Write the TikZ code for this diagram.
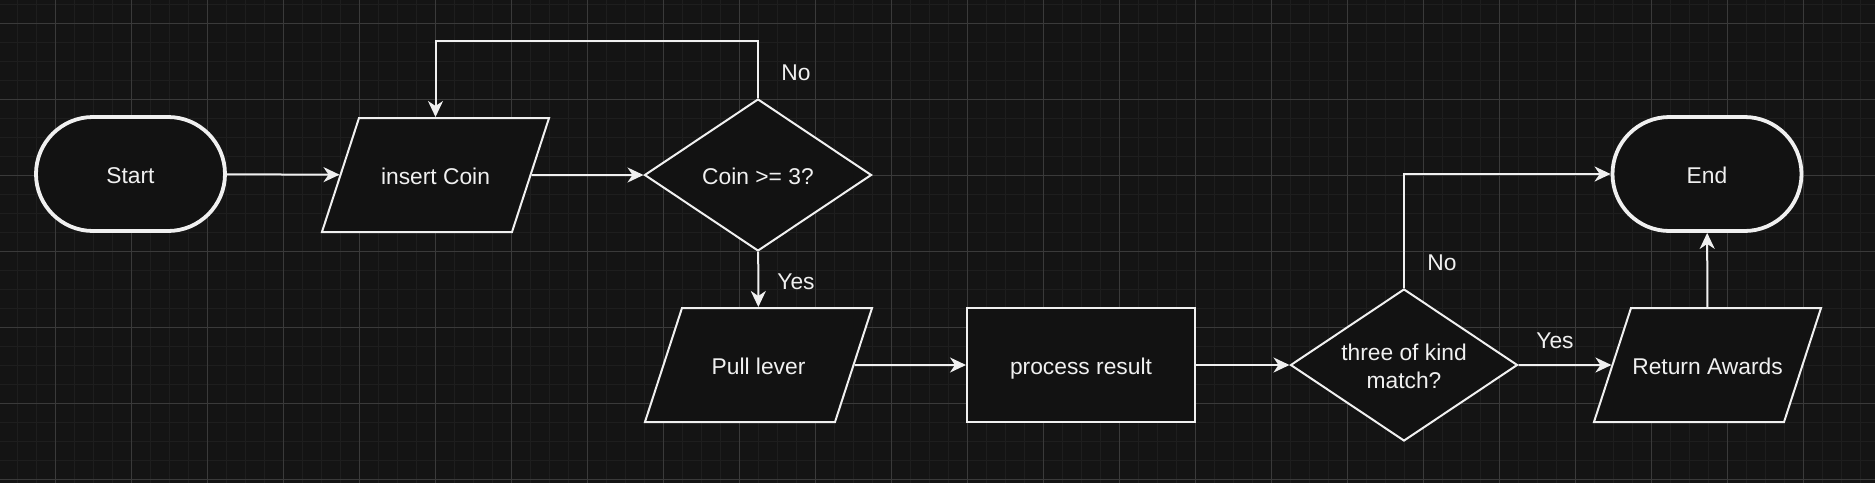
\documentclass[tikz,border=0pt]{standalone}
\usepackage{fontspec}
\setmainfont{Liberation Sans}
\usetikzlibrary{shapes.geometric,arrows.meta}
\definecolor{bgcol}{HTML}{141414}
\definecolor{gridminor}{HTML}{1E1E1E}
\definecolor{gridmajor}{HTML}{3A3A3A}
\definecolor{inkcol}{HTML}{F0F0F0}
\definecolor{shapefill}{HTML}{121212}
\begin{document}
\begin{tikzpicture}[x=1pt, y=-1pt,
  every node/.style={text=inkcol, font=\fontsize{22.8}{27.4}\selectfont, text height=20pt, text depth=1pt},
  startstop/.style={draw=inkcol, fill=shapefill, line width=3.8pt, rectangle, rounded corners=57pt, minimum width=189pt, minimum height=114pt},
  iobox/.style={draw=inkcol, fill=shapefill, line width=2pt, trapezium, trapezium left angle=72, trapezium right angle=108, text width=152pt, align=flush center, inner xsep=0.5pt, inner ysep=46.5pt},
  procbox/.style={draw=inkcol, fill=shapefill, line width=2pt, rectangle, minimum width=228pt, minimum height=114pt},
  decisionbox/.style={draw=inkcol, fill=shapefill, line width=2pt, diamond, aspect=1.5, inner sep=1pt, minimum width=227pt, minimum height=152pt, align=center},
  flow/.style={draw=inkcol, line width=2pt, -{Stealth[length=16pt, width=15pt, inset=5pt, fill=inkcol]}}]
  % background and grid
  \fill[bgcol] (0,0) rectangle (1875,483);
  \useasboundingbox (0,0) rectangle (1875,483);
  \foreach \k in {0,...,97} \draw[gridminor, line width=1pt] ({17.3+19*\k},0) -- ++(0,483);
  \foreach \k in {0,...,25} \draw[gridminor, line width=1pt] (0,{4.3+19*\k}) -- ++(1875,0);
  \foreach \k in {0,...,23} \draw[gridmajor, line width=1pt] ({55.3+76*\k},0) -- ++(0,483);
  \foreach \k in {0,...,6} \draw[gridmajor, line width=1pt] (0,{23.3+76*\k}) -- ++(1875,0);
  % shapes
  \node [startstop] (start) at (130.5,174) {Start};
  \node [iobox] (coin) at (435.5,175) {insert Coin};
  \node [decisionbox] (check) at (758,175) {Coin >= 3?};
  \node [iobox] (pull) at (758.5,365) {Pull lever};
  \node [procbox] (result) at (1081,365) {process result};
  \node [decisionbox, text height=47.4pt] (match) at (1404,365) {three of kind\\match?};
  \node [iobox] (award) at (1707.5,365) {Return Awards};
  \node [startstop] (end) at (1707,174) {End};
  % connectors
  \path[flow] (start) edge (coin) (coin) edge (check) (pull) edge (result) (result) edge (match) (match) edge (award) (award) edge (end);
  \draw[flow] (check.north) -- ++(0,-57) -| (coin.north);
  \draw[flow] (check) -- (pull);
  \draw[flow] (match.north) |- (end.west);
  % labels
  \node (lno1) at (796,71) {No};
  \node (lyes1) at (796,280) {Yes};
  \node (lno2) at (1442,261) {No};
  \node (lyes2) at (1555,339) {Yes};
\end{tikzpicture}
\end{document}
